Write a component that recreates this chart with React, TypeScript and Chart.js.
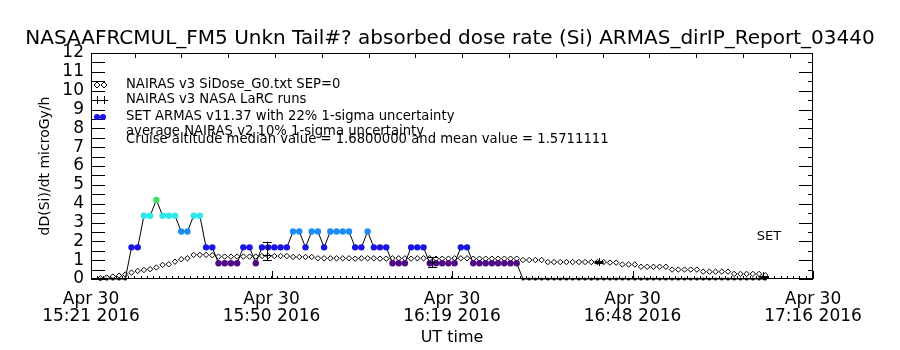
import React, { useEffect, useRef } from 'react';
import { Chart, registerables } from 'chart.js';

Chart.register(...registerables);

const FONT = '"DejaVu Sans", sans-serif';

// ---------- text ----------
const TITLE = 'NASAAFRCMUL_FM5 Unkn Tail#? absorbed dose rate (Si) ARMAS_dirIP_Report_03440';
const Y_TITLE = 'dD(Si)/dt microGy/h';
const X_TITLE = 'UT time';
const LEGEND_NAIRAS = 'NAIRAS v3 SiDose_G0.txt SEP=0';
const LEGEND_LARC = 'NAIRAS v3 NASA LaRC runs';
const LEGEND_SET = 'SET ARMAS v11.37 with 22% 1-sigma uncertainty';
const LEGEND_AVG = 'average NAIRAS v2 10% 1-sigma uncertainty';
const LEGEND_STATS = 'Cruise altitude median value = 1.6800000 and mean value = 1.5711111';
const SET_LABEL = 'SET';

// ---------- axes (minutes since 15:21 UT) ----------
const X_MIN = 0;
const X_MAX = 116.2;
const xTickMinutes = [0, 29.05, 58.1, 87.15, 116.2];
const xTickDates = ['Apr 30', 'Apr 30', 'Apr 30', 'Apr 30', 'Apr 30'];
const xTickTimes = ['15:21 2016', '15:50 2016', '16:19 2016', '16:48 2016', '17:16 2016'];
const topTickMinutes = [7.03, 14.56, 22.09, 29.62, 37.15, 44.68, 52.21, 59.74, 67.27, 74.8, 82.33, 89.86, 97.39, 104.92, 112.45];
const Y_MIN = 0;
const Y_MAX = 12;
const yTickValues = [0, 1, 2, 3, 4, 5, 6, 7, 8, 9, 10, 11, 12];

// ---------- data: one sample per minute ----------
const SAMPLE_OFFSET = 0.52; // minutes past each whole minute
const SET_FIRST_MINUTE = 1;
const setValues = [
  0, 0, 0, 0, 0,
  1.68, 1.68, 3.36, 3.36, 4.2, 3.36, 3.36, 3.36, 2.52, 2.52,
  3.36, 3.36, 1.68, 1.68, 0.84, 0.84, 0.84, 0.84, 1.68, 1.68,
  0.84, 1.68, 1.68, 1.68, 1.68, 1.68, 2.52, 2.52, 1.68, 2.52,
  2.52, 1.68, 2.52, 2.52, 2.52, 2.52, 1.68, 1.68, 2.52, 1.68,
  1.68, 1.68, 0.84, 0.84, 0.84, 1.68, 1.68, 1.68, 0.84, 0.84,
  0.84, 0.84, 0.84, 1.68, 1.68, 0.84, 0.84, 0.84, 0.84, 0.84,
  0.84, 0.84, 0.84,
  0, 0, 0, 0, 0, 0, 0, 0, 0, 0,
  0, 0, 0, 0, 0, 0, 0, 0, 0, 0,
  0, 0, 0, 0, 0, 0, 0, 0, 0, 0,
  0, 0, 0, 0, 0, 0, 0, 0, 0, 0,
];

const NAIRAS_FIRST_MINUTE = 1;
const nairasValues = [
  0.04, 0.08, 0.13, 0.18, 0.24, 0.34, 0.43, 0.48, 0.52, 0.61,
  0.75, 0.78, 0.92, 1.05, 1.1, 1.28, 1.28, 1.28, 1.26, 1.19,
  1.19, 1.19, 1.19, 1.19, 1.19, 1.19, 1.22, 1.22, 1.22, 1.22,
  1.22, 1.17, 1.17, 1.17, 1.17, 1.1, 1.1, 1.1, 1.1, 1.1,
  1.1, 1.08, 1.1, 1.1, 1.1, 1.08, 1.08, 1.1, 1.1, 1.1,
  1.08, 1.1, 1.1, 1.1, 1.08, 1.08, 1.08, 1.1, 1.1, 1.1,
  1.08, 1.08, 1.08, 1.08, 1.08, 1.08, 1.08, 1.08, 1.01, 1.01,
  1.01, 1.01, 0.9, 0.9, 0.9, 0.9, 0.9, 0.9, 0.9, 0.9,
  0.9, 0.9, 0.87, 0.87, 0.77, 0.77, 0.77, 0.65, 0.65, 0.65,
  0.65, 0.65, 0.5, 0.5, 0.5, 0.5, 0.5, 0.39, 0.39, 0.39,
  0.39, 0.39, 0.27, 0.27, 0.27, 0.27, 0.27, 0.2,
];

// NAIRAS v3 NASA LaRC runs with uncertainty bars
const larcMinutes = [28.3, 54.9, 81.7, 108.2];
const larcValues = [1.28, 0.89, 0.9, 0.15];
const larcLow = [1.0, 0.63, 0.85, 0.12];
const larcHigh = [1.98, 1.16, 0.95, 0.18];

// colour table for ARMAS dose-rate levels
const setLevels = [0, 0.84, 1.68, 2.52, 3.36, 4.2];
const setLevelColors = ['#000000', '#500a87', '#1a14e6', '#1e8cf5', '#2de8e8', '#3de25a'];

function levelColor(v: number): string {
  let best = 0;
  for (let i = 1; i < setLevels.length; i++) {
    if (Math.abs(setLevels[i] - v) < Math.abs(setLevels[best] - v)) best = i;
  }
  return setLevelColors[best];
}

const decorPlugin = {
  id: 'decor',
  afterDraw(chart: any) {
    const { ctx, chartArea: a, scales } = chart;
    const xs = scales.x;
    const ys = scales.y;
    ctx.save();
    ctx.strokeStyle = '#000';
    ctx.fillStyle = '#000';
    ctx.lineWidth = 1;
    const h = (x1: number, y: number, x2: number) => {
      const yy = Math.round(y) + 0.5;
      ctx.beginPath(); ctx.moveTo(x1, yy); ctx.lineTo(x2, yy); ctx.stroke();
    };
    const v = (x: number, y1: number, y2: number) => {
      const xx = Math.round(x) + 0.5;
      ctx.beginPath(); ctx.moveTo(xx, y1); ctx.lineTo(xx, y2); ctx.stroke();
    };
    // frame
    ctx.strokeRect(a.left + 0.5, a.top + 0.5, a.right - a.left - 1, a.bottom - a.top - 1);
    // y ticks (inward), every half unit
    for (let i = Y_MIN * 2; i <= Y_MAX * 2; i++) {
      const y = ys.getPixelForValue(i / 2);
      h(a.left, y, a.left + 14);
      h(a.right, y, a.right - (i % 2 === 0 ? 14 : 5));
    }
    // bottom ticks: minor every minute, major at labels
    for (let m = Math.ceil(X_MIN); m <= X_MAX; m++) {
      const x = xs.getPixelForValue(m);
      v(x, a.bottom, a.bottom - 3);
    }
    xTickMinutes.forEach((m) => v(xs.getPixelForValue(m), a.bottom, a.bottom - 8));
    topTickMinutes.forEach((m) => v(xs.getPixelForValue(m), a.top, a.top + 5));

    // LaRC runs: error bars and plus markers
    larcMinutes.forEach((t, i) => {
      const x = xs.getPixelForValue(t);
      const yl = ys.getPixelForValue(larcLow[i]);
      const yh = ys.getPixelForValue(larcHigh[i]);
      const yv = ys.getPixelForValue(larcValues[i]);
      v(x, yh, yl);
      h(x - 4, yh, x + 5);
      h(x - 4, yl, x + 5);
      h(x - 4, yv, x + 5);
      v(x, yv - 4, yv + 4);
    });

    // legend
    const lx = a.left + 35;
    ctx.font = `13.2px ${FONT}`;
    ctx.textBaseline = 'middle';
    ctx.textAlign = 'left';
    const r1 = a.top + 32;
    const r2 = a.top + 47;
    const r3 = a.top + 64;
    const r4 = a.top + 79;
    const r5 = a.top + 87;
    // diamonds
    [a.left + 6, a.left + 13].forEach((cx) => {
      ctx.beginPath();
      ctx.moveTo(cx - 3, r1); ctx.lineTo(cx, r1 - 3); ctx.lineTo(cx + 3, r1); ctx.lineTo(cx, r1 + 3); ctx.closePath();
      ctx.fillStyle = '#fff'; ctx.fill(); ctx.stroke();
    });
    ctx.fillStyle = '#000';
    ctx.fillText(LEGEND_NAIRAS, lx, r1);
    // plus signs
    [a.left + 6, a.left + 13].forEach((cx) => {
      h(cx - 3, r2, cx + 4);
      v(cx, r2 - 4, r2 + 4);
    });
    ctx.fillText(LEGEND_LARC, lx, r2);
    // blue dots
    ctx.fillStyle = setLevelColors[2];
    [a.left + 6, a.left + 12].forEach((cx) => {
      ctx.beginPath(); ctx.arc(cx, r3, 3, 0, Math.PI * 2); ctx.fill();
    });
    ctx.fillStyle = '#000';
    ctx.fillText(LEGEND_SET, lx, r3);
    ctx.fillText(LEGEND_AVG, lx, r4);
    ctx.fillText(LEGEND_STATS, lx, r5);

    // SET label
    ctx.font = `13px ${FONT}`;
    ctx.textAlign = 'center';
    ctx.fillText(SET_LABEL, a.right - 44, a.top + 184);
    ctx.restore();
  },
};

export default function App() {
  const ref = useRef<HTMLCanvasElement | null>(null);
  useEffect(() => {
    if (!ref.current) return;
    Chart.defaults.font.family = FONT;
    Chart.defaults.color = '#000';
    const setPoints = setValues.map((y, i) => ({ x: SET_FIRST_MINUTE + i + SAMPLE_OFFSET, y }));
    const nairasPoints = nairasValues.map((y, i) => ({ x: NAIRAS_FIRST_MINUTE + i + SAMPLE_OFFSET, y }));
    const chart = new Chart(ref.current, {
      type: 'scatter',
      data: {
        datasets: [
          {
            label: 'SET ARMAS',
            data: setPoints,
            showLine: true,
            borderColor: '#000',
            borderWidth: 1,
            pointBackgroundColor: setValues.map(levelColor),
            pointBorderWidth: 0,
            pointRadius: setValues.map((y) => (y === 0 ? 1.6 : 3.2)),
            clip: false,
          } as any,
          {
            label: 'NAIRAS',
            data: nairasPoints,
            showLine: false,
            pointStyle: 'rectRot',
            pointRadius: 2.7,
            pointBackgroundColor: '#fff',
            pointBorderColor: '#000',
            pointBorderWidth: 1,
            clip: false,
          } as any,
        ],
      },
      options: {
        responsive: false,
        animation: false,
        events: [],
        layout: { padding: 0 },
        plugins: {
          legend: { display: false },
          tooltip: { enabled: false },
          title: {
            display: true,
            text: TITLE,
            color: '#000',
            font: { family: FONT, size: 20, weight: 'normal', lineHeight: 1.2 },
            padding: { top: 27, bottom: 2 },
          },
        },
        scales: {
          x: {
            type: 'linear',
            min: X_MIN,
            max: X_MAX,
            afterBuildTicks: (s: any) => { s.ticks = xTickMinutes.map((value) => ({ value })); },
            afterFit: (s: any) => { s.height = 71; },
            grid: { display: false, drawTicks: false },
            border: { display: false },
            ticks: {
              autoSkip: false,
              maxRotation: 0,
              minRotation: 0,
              padding: 13,
              color: '#000',
              font: { family: FONT, size: 17, lineHeight: 0.95 },
              callback: (_v: any, i: number) => [xTickDates[i], xTickTimes[i]],
            },
            title: {
              display: true,
              text: X_TITLE,
              color: '#000',
              font: { family: FONT, size: 16, lineHeight: 1.2 },
              padding: { top: 0, bottom: 3 },
            },
          },
          y: {
            type: 'linear',
            min: Y_MIN,
            max: Y_MAX,
            afterBuildTicks: (s: any) => { s.ticks = yTickValues.map((value) => ({ value })); },
            afterFit: (s: any) => { s.width = 91; },
            grid: { display: false, drawTicks: false },
            border: { display: false },
            ticks: {
              autoSkip: false,
              padding: 7,
              color: '#000',
              font: { family: FONT, size: 17 },
              callback: (val: any) => String(val),
            },
            title: {
              display: true,
              text: Y_TITLE,
              color: '#000',
              font: { family: FONT, size: 14, lineHeight: 1.2 },
              padding: { top: 37, bottom: 0 },
            },
          },
          yRight: {
            type: 'linear',
            position: 'right',
            min: Y_MIN,
            max: Y_MAX,
            afterFit: (s: any) => { s.width = 87; },
            grid: { display: false, drawTicks: false },
            border: { display: false },
            ticks: { display: false },
          },
        },
      } as any,
      plugins: [decorPlugin],
    });
    return () => chart.destroy();
  }, []);
  return (
    <div style={{ position: 'absolute', left: 0, top: 0, width: 900, height: 350, background: '#fff' }}>
      <canvas ref={ref} width={900} height={350} style={{ width: 900, height: 350 }} />
    </div>
  );
}
